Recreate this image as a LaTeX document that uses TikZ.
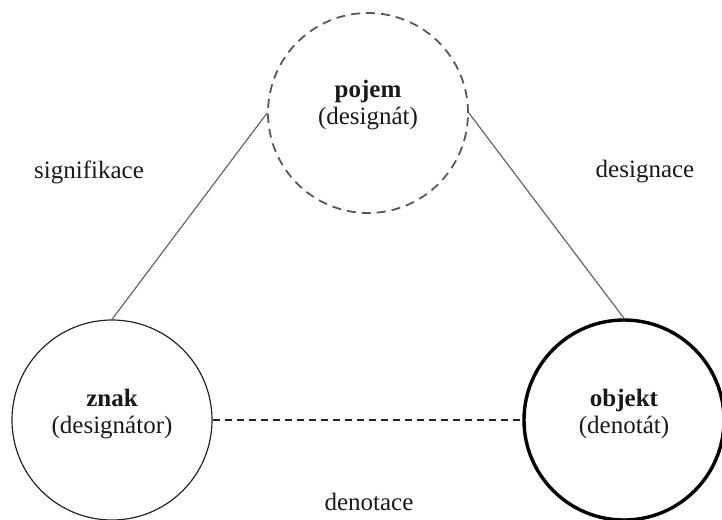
\documentclass[tikz,border=0pt]{standalone}
\usepackage{fontspec}
\setmainfont{Liberation Serif}
\usetikzlibrary{calc, positioning}

\tikzset{
  term/.style = {circle, minimum size = 200pt, inner sep = 0pt},
  caption/.style = {font = \fontsize{25}{27}\selectfont, align = center, text = black!90},
  relation/.style = {font = \fontsize{25}{27}\selectfont, text = black!90}
}

\begin{document}
\begin{tikzpicture}[x = 1pt, y = -1pt]
  \useasboundingbox (0,0) rectangle (722,519);

  \node [term, draw = black!65, line width = 1.8pt, dash pattern = on 9pt off 6pt] (pojem) at (368,113) {};
  \node [term, draw = black!85, line width = 1.2pt] (znak) at (112,420) {};
  \node [term, draw = black, line width = 3.4pt] (objekt) at (624,420) {};

  \node [caption] (pojemtext) at ($(pojem) + (0,-8)$) {\textbf{pojem}\\(designát)};
  \node [caption] (znaktext) at ($(znak) + (0,-6)$) {\textbf{znak}\\(designátor)};
  \node [caption] (objekttext) at ($(objekt) + (0,-6)$) {\textbf{objekt}\\(denotát)};

  \draw [black!60, line width = 1.2pt] (znak.north) -- (pojem.west);
  \draw [black!60, line width = 1.2pt] (pojem.east) -- (objekt.north);
  \draw [black!85, line width = 1.1pt, dash pattern = on 7pt off 5pt] (znak.east) -- (objekt.west);

  \node [relation] (signifikace) at (89,172) {signifikace};
  \node [relation] (designace) at (645,172) {designace};
  \node [relation] (denotace) at (369,502) {denotace};
\end{tikzpicture}
\end{document}
